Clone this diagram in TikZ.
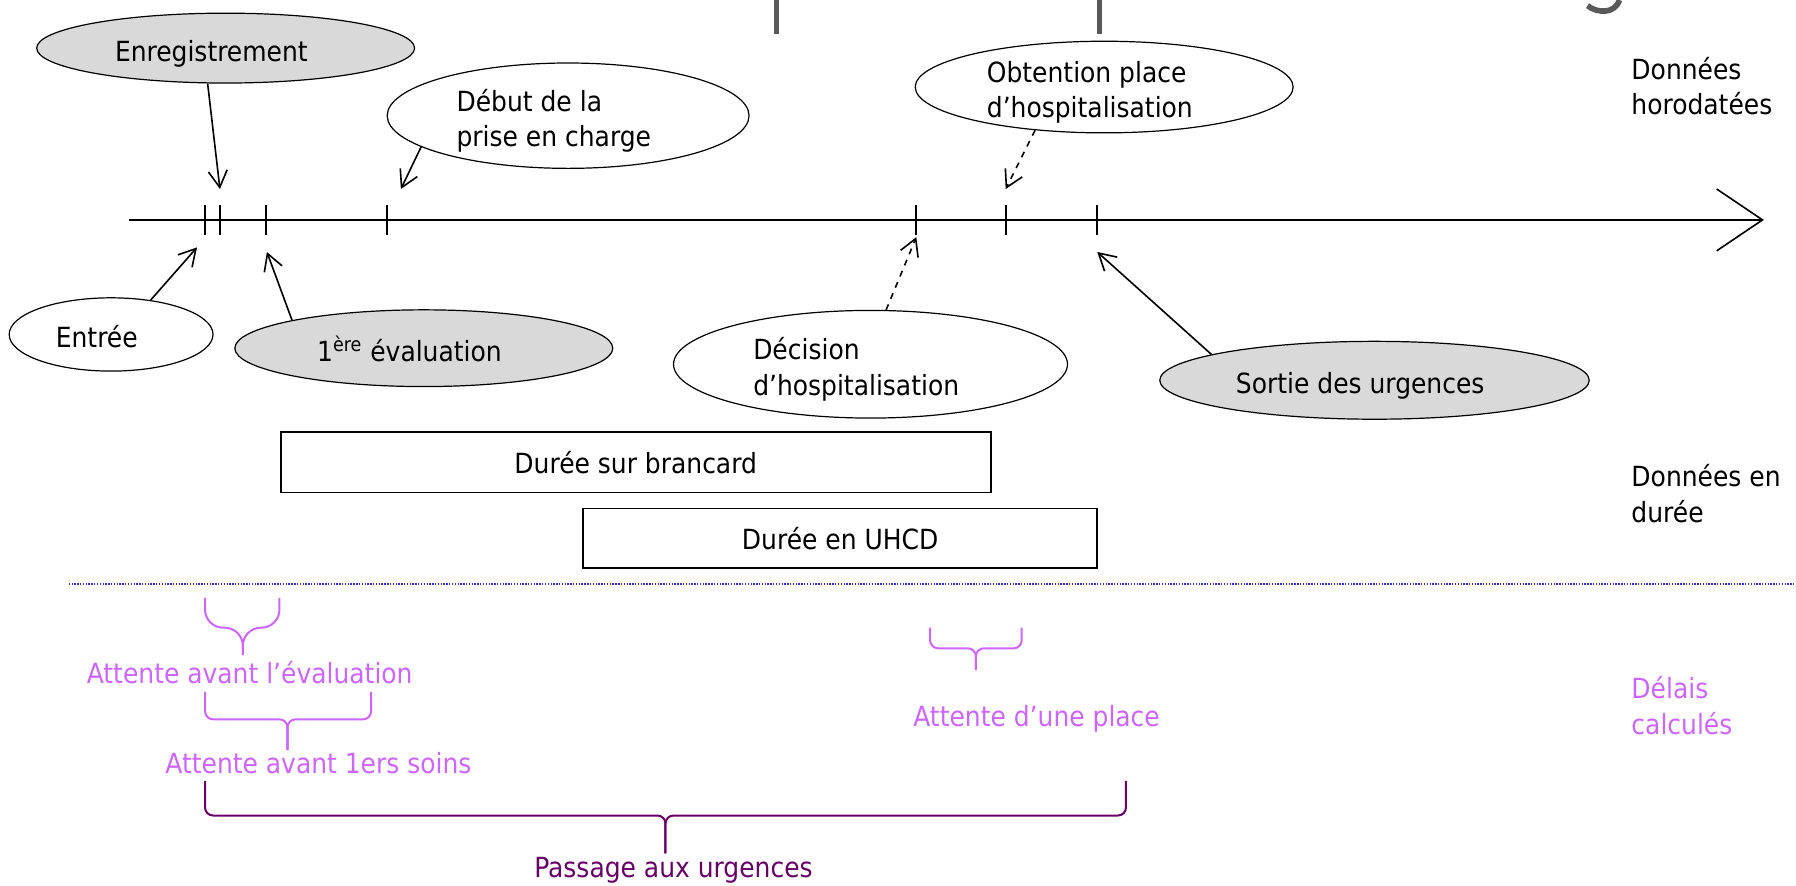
\documentclass[tikz,border=0pt]{standalone}
\usepackage{fontspec}
\setmainfont{DejaVu Sans Condensed}
\usetikzlibrary{arrows.meta,shapes.geometric}
\definecolor{evtgray}{HTML}{D9D9D9}
\definecolor{attente}{HTML}{CC66FF}
\definecolor{passage}{HTML}{660066}
\definecolor{sep}{HTML}{3333CC}
\definecolor{titre}{HTML}{595959}
\newcommand{\evtxt}[1]{\raisebox{-3pt}[\height][\depth]{\begin{tabular}{@{}l@{\hspace{0.5cm}}}#1\end{tabular}}}

\begin{document}
\begin{tikzpicture}[x=0.02cm,y=-0.02cm,
    every node/.style={font=\fontsize{13.8}{17.6}\selectfont},
    evt/.style={draw,ellipse,inner sep=0pt,line width=0.6pt},
    duree/.style={draw,rectangle,inner sep=0pt,line width=0.8pt},
    legende/.style={anchor=west,align=left,inner sep=0pt},
    fleche/.style={line width=0.8pt,-{Straight Barb[length=2.9mm,width=3.3mm]}},
    accol/.style={line width=1pt,rounded corners=4pt}]
                \useasboundingbox (0,0) rectangle (1568,773);
                % bas du titre
                \draw[titre,line width=2.8pt] (678,0) -- (678,30);
                \draw[titre,line width=2.8pt] (960,0) -- (960,30);
                \draw[titre,line width=2.8pt] (1414,0) .. controls (1410,12) and (1395,12) .. (1386,5);
                % axe du temps
                \draw[line width=0.8pt,-{Straight Barb[length=8mm,width=10.8mm]}] (113,192) -- (1540,192);
                \foreach \x in {179,192,232,338,800,878,958}
                    \draw[line width=0.9pt] (\x,179) -- (\x,205);
                \coordinate (pEnreg) at (192,165);
                \coordinate (pDebut) at (350,165);
                \coordinate (pObtention) at (878,165);
                \coordinate (pEntree) at (172,216);
                \coordinate (pEval) at (233,220);
                \coordinate (pDecision) at (800,207);
                \coordinate (pSortie) at (958,220);
                % evenements
                \node[evt,fill=evtgray,minimum width=6.6cm,minimum height=1.22cm] (enreg) at (197,42) {\evtxt{Enregistrement}};
                \node[evt,minimum width=6.32cm,minimum height=1.84cm] (debut) at (496,101) {\evtxt{Début de la\\prise en charge}};
                \node[evt,inner ysep=-3pt,minimum width=6.6cm,minimum height=1.6cm] (obtention) at (964,76) {\evtxt{Obtention place\\d’hospitalisation}};
                \node[evt,minimum width=3.56cm,minimum height=1.28cm] (entree) at (97,292) {\evtxt{Entrée}};
                \node[evt,fill=evtgray,minimum width=6.6cm,minimum height=1.34cm] (eval) at (370,304) {\evtxt{1\textsuperscript{ère} évaluation}};
                \node[evt,minimum width=6.88cm,minimum height=1.88cm] (decision) at (760,318) {\evtxt{Décision\\d’hospitalisation}};
                \node[evt,fill=evtgray,minimum width=7.5cm,minimum height=1.36cm] (sortie) at (1200,332) {\evtxt{Sortie des urgences}};
                \draw[fleche] (enreg.243) -- (pEnreg);
                \draw[fleche] (debut.192) -- (pDebut);
                \draw[fleche,dashed] (obtention.212) -- (pObtention);
                \draw[fleche] (entree.41) -- (pEntree);
                \draw[fleche] (eval.168) -- (pEval);
                \draw[fleche,dashed] (decision.74) -- (pDecision);
                \draw[fleche] (sortie.171) -- (pSortie);
                % durees
                \node[duree,minimum width=12.4cm,minimum height=1.06cm] (brancard) at (555,403.5) {Durée sur brancard};
                \node[duree,minimum width=8.98cm,minimum height=1.04cm] (uhcd) at (733.5,470) {Durée en UHCD};
                \draw[sep,line width=1pt,dash pattern=on 0.7pt off 0.7pt] (60,510) -- (1568,510);
                % delais
                \draw[accol,attente,rounded corners=9pt] (179,522) |- (212,548) -- (212,572);
                \draw[accol,attente,rounded corners=9pt] (244,522) |- (212,548) -- (212,572);
                \node[text=attente] (attEval) at (218,587) {Attente avant l’évaluation};
                \draw[accol,attente] (179,604) |- (251,628) -- (251,655);
                \draw[accol,attente] (324,604) |- (251,628) -- (251,655);
                \node[text=attente] (attSoins) at (278,666) {Attente avant 1ers soins};
                \draw[accol,attente] (812,548) |- (852,566) -- (852,585);
                \draw[accol,attente] (892,548) |- (852,566) -- (852,585);
                \node[text=attente] (attPlace) at (905,628) {Attente d’une place};
                \draw[accol,passage] (179,682) |- (581,712) -- (581,745);
                \draw[accol,passage] (983,682) |- (581,712) -- (581,745);
                \node[text=passage] (passageUrg) at (588,760) {Passage aux urgences};
                % legendes
                \node[legende] (horodatees) at (1424,75) {Données\\horodatées};
                \node[legende] (enDuree) at (1424,431) {Données en\\durée};
                \node[legende,text=attente] (calcules) at (1424,616) {Délais\\calculés};
            \end{tikzpicture}
\end{document}
